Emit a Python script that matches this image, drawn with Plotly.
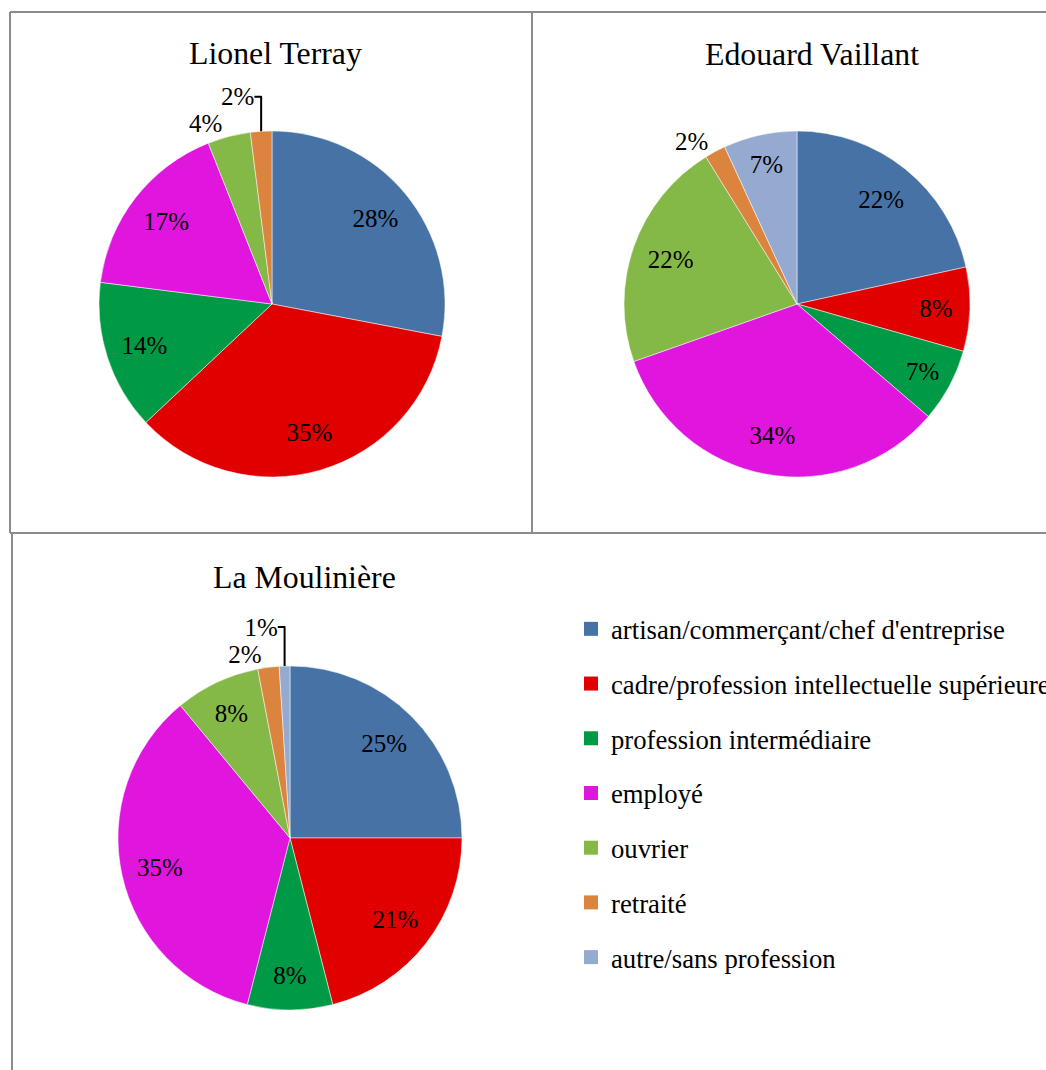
import plotly.graph_objects as go

W, H = 1046, 1070

categories = [
    "artisan/commerçant/chef d'entreprise",
    "cadre/profession intellectuelle supérieure",
    "profession intermédiaire",
    "employé",
    "ouvrier",
    "retraité",
    "autre/sans profession",
]
colors = ["#4672A6", "#E00000", "#009A46", "#E016DE", "#84B847", "#DB843D", "#95AAD0"]

lionel_terray = [28, 35, 14, 17, 4, 2, None]
edouard_vaillant = [22, 8, 7, 34, 22, 2, 7]
la_mouliniere = [25, 21, 8, 35, 8, 2, 1]

titles = ["Lionel Terray", "Edouard Vaillant", "La Moulinière"]

FONT = "Liberation Serif, Times New Roman, serif"


def px_dom(x0, x1, y0, y1):
    return dict(x=[x0 / W, x1 / W], y=[1 - y1 / H, 1 - y0 / H])


domains = [
    px_dom(99, 445, 131, 477),
    px_dom(624, 970, 131, 477),
    px_dom(118, 462, 666, 1010),
]

fig = go.Figure()
for vals, dom, name in zip([lionel_terray, edouard_vaillant, la_mouliniere], domains, titles):
    # coloured slices
    fig.add_trace(go.Pie(
        labels=categories,
        values=vals,
        name=name,
        sort=False,
        direction="clockwise",
        rotation=0,
        marker=dict(colors=colors, line=dict(color="white", width=0.5)),
        textinfo="none",
        domain=dom,
        showlegend=False,
        hoverinfo="label+value",
    ))
    # same data, ring layout only used to place the percentage labels
    fig.add_trace(go.Pie(
        labels=categories,
        values=vals,
        name=name,
        sort=False,
        direction="clockwise",
        rotation=0,
        hole=0.55,
        marker=dict(colors=["rgba(0,0,0,0)"] * len(categories), line=dict(width=0)),
        texttemplate="%{value}%",
        textposition="auto",
        insidetextorientation="horizontal",
        textfont=dict(family=FONT, size=25, color="black"),
        outsidetextfont=dict(family=FONT, size=25, color="black"),
        domain=dom,
        showlegend=False,
        hoverinfo="skip",
    ))

# legend entries (one group per category for spacing)
for cat, col in zip(categories, colors):
    fig.add_trace(go.Scatter(
        x=[None], y=[None], mode="markers", name=cat, legendgroup=cat,
        marker=dict(symbol="square", size=14, color=col),
        showlegend=True,
    ))

# titles
title_pos = [(275, 53), (812, 55), (304, 577)]
for t, (x, y) in zip(titles, title_pos):
    fig.add_annotation(text=t, x=x / W, y=1 - y / H, xref="paper", yref="paper",
                       showarrow=False, xanchor="center", yanchor="middle",
                       font=dict(family=FONT, size=31.8, color="black"))

# frame lines
lc = "#8C8C8C"
lines = [
    (10, 12, 1046, 12),
    (10, 12, 10, 533),
    (532, 12, 532, 533),
    (10, 533, 1046, 533),
    (12, 533, 12, 1070),
]
for x0, y0, x1, y1 in lines:
    fig.add_shape(type="line", xref="paper", yref="paper",
                  x0=x0 / W, y0=1 - y0 / H, x1=x1 / W, y1=1 - y1 / H,
                  line=dict(color=lc, width=2))

fig.update_layout(
    width=W, height=H,
    margin=dict(l=0, r=0, t=0, b=0, autoexpand=False),
    paper_bgcolor="white", plot_bgcolor="white",
    font=dict(family=FONT, color="black"),
    xaxis=dict(visible=False, domain=[0, 0.001]),
    yaxis=dict(visible=False, domain=[0, 0.001]),
    legend=dict(
        x=571 / W, y=1 - 605 / H, xanchor="left", yanchor="top",
        font=dict(family=FONT, size=26.7, color="black"),
        traceorder="grouped", tracegroupgap=17,
        bgcolor="rgba(0,0,0,0)", itemclick=False, itemdoubleclick=False,
    ),
)

fig.write_html("out.html", config={"displayModeBar": False},
               post_script="document.body.style.margin='0';")
